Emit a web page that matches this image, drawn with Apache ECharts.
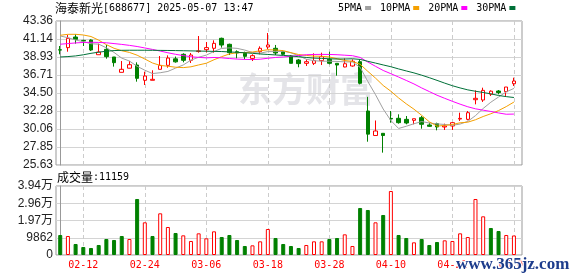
<!DOCTYPE html>
<html><head><meta charset="utf-8">
<script src="https://cdn.jsdelivr.net/npm/echarts@6/dist/echarts.min.js"></script>
<style>html,body{margin:0;padding:0;background:#fff}#c{width:578px;height:276px}</style>
</head><body><div id="c"></div>
<script>
const stockName = '海泰新光';
const stockCode = '688677';
const stamp = '2025-05-07 13:47';
const dates = ['02-07','02-10','02-11','02-12','02-13','02-14','02-17','02-18','02-19','02-20','02-21','02-24','02-25','02-26','02-27','02-28',
'03-03','03-04','03-05','03-06','03-07','03-10','03-11','03-12','03-13','03-14','03-17','03-18','03-19','03-20','03-21','03-24','03-25','03-26','03-27','03-28','03-31',
'04-01','04-02','04-03','04-07','04-08','04-09','04-10','04-11','04-14','04-15','04-16','04-17','04-18','04-21','04-22','04-23','04-24','04-25','04-28','04-29','04-30','05-06','05-07'];
const openP  = [39.82,40.08,41.39,40.97,41.02,39.21,39.87,38.93,37.04,37.55,37.94,36.06,36.06,37.41,37.90,38.70,39.26,38.52,39.60,39.83,40.00,41.23,40.49,39.58,39.38,38.76,39.58,40.16,40.00,39.58,39.05,38.56,38.15,38.15,38.48,38.64,38.15,37.70,37.82,38.35,32.28,29.26,29.53,31.37,31.38,31.25,31.13,31.46,30.56,30.72,30.31,30.43,31.29,31.25,33.67,33.63,34.35,34.74,34.66,35.64];
const closeP = [39.78,41.23,41.10,40.90,39.79,39.54,38.97,38.23,37.41,37.98,36.30,36.59,36.18,37.90,38.80,38.33,38.52,39.17,39.68,40.08,40.61,40.40,39.46,39.42,39.01,39.09,40.00,40.41,39.42,39.26,38.15,38.11,38.35,38.48,38.97,38.15,37.94,38.10,38.40,35.69,29.43,29.82,29.26,31.30,30.84,30.80,31.33,30.64,30.39,30.31,30.43,30.84,31.37,32.07,33.84,34.82,34.72,34.54,35.23,35.97];
const lowP   = [39.26,39.58,40.57,40.28,39.67,39.21,38.72,37.74,37.04,37.53,35.89,35.48,36.06,37.41,37.61,38.23,38.27,38.19,39.46,39.50,39.46,40.08,39.17,38.76,38.64,38.43,39.26,39.87,39.17,39.17,38.15,37.66,37.82,37.94,37.94,38.02,36.63,37.66,37.74,35.56,28.50,29.24,27.15,30.84,30.72,30.64,30.64,30.10,30.31,29.90,29.94,29.94,31.05,31.13,33.10,33.39,34.13,34.33,34.13,35.36];
const highP  = [40.28,41.64,41.72,41.06,41.10,40.57,40.41,38.93,38.43,38.43,38.27,37.12,37.29,39.05,39.13,38.98,39.38,39.42,41.51,40.77,40.98,41.31,40.57,39.75,39.58,39.26,40.24,41.88,40.41,39.75,39.17,38.68,38.64,39.38,39.46,39.58,38.15,38.76,38.64,38.64,34.02,31.11,29.53,32.28,31.87,31.66,31.33,31.66,30.84,30.84,30.72,30.92,32.07,32.28,34.82,35.15,34.82,34.86,35.23,36.38];
const volume = [11436,10864,6290,4574,4003,5718,9149,8577,10864,9149,32021,18679,10864,23825,16010,12580,11245,8005,12389,9530,13533,10292,11436,8577,5146,5527,7815,14867,9721,6290,5146,4003,5718,7815,7815,9149,9721,11817,5146,26875,25731,18679,22872,36595,11436,9721,7243,9149,5718,7433,8386,8005,12389,10292,32021,22110,15439,13723,11436,11159];
const ma5  = [41.51,41.31,41.02,40.82,40.56,40.51,40.06,39.49,38.79,38.43,37.78,37.30,36.89,36.99,37.15,37.56,37.95,38.54,38.90,39.16,39.61,39.99,40.05,39.99,39.78,39.48,39.40,39.59,39.59,39.64,39.45,39.07,38.66,38.47,38.41,38.41,38.38,38.33,38.31,37.66,35.91,34.29,32.52,31.10,30.13,30.40,30.71,30.98,30.80,30.69,30.62,30.52,30.67,31.00,31.71,32.59,33.36,34.00,34.63,35.06];
const ma10 = [41.60,41.72,41.72,41.64,41.45,41.00,40.45,40.00,39.70,39.49,39.15,38.68,38.19,37.89,37.79,37.67,37.62,37.72,37.95,38.16,38.59,38.97,39.30,39.45,39.47,39.54,39.69,39.82,39.79,39.71,39.46,39.23,39.12,39.03,39.02,38.93,38.72,38.49,38.39,38.03,37.16,36.33,35.42,34.71,33.89,33.16,32.50,31.75,30.95,30.41,30.51,30.61,30.83,30.90,31.20,31.60,31.94,32.33,32.82,33.38];
const ma20 = [40.50,40.58,40.66,40.72,40.74,40.72,40.68,40.58,40.48,40.36,40.22,40.04,39.86,39.66,39.45,39.26,39.10,38.96,38.88,38.82,38.87,38.82,38.74,38.67,38.63,38.61,38.66,38.77,38.87,38.93,39.02,39.10,39.21,39.24,39.25,39.24,39.21,39.15,39.09,38.87,38.31,37.78,37.27,36.87,36.46,36.04,35.61,35.12,34.67,34.22,33.84,33.47,33.12,32.80,32.55,32.38,32.22,32.04,31.88,31.90];
const ma30 = [38.93,38.98,39.06,39.20,39.38,39.52,39.64,39.72,39.75,39.76,39.76,39.76,39.75,39.74,39.73,39.72,39.70,39.68,39.66,39.64,39.62,39.60,39.55,39.50,39.45,39.38,39.30,39.24,39.18,39.12,39.06,38.96,38.87,38.79,38.76,38.71,38.68,38.68,38.71,38.63,38.40,38.18,37.95,37.73,37.46,37.21,36.97,36.69,36.38,36.05,35.71,35.39,35.12,34.88,34.71,34.56,34.39,34.19,34.05,33.94];
const priceTicks = ['25.63','27.85','30.06','32.28','34.50','36.71','38.93','41.14','43.36'];
const volTicks = ['0','9862','1.97万','2.96万','3.94万'];
const xTickLabels = ['02-12','02-24','03-06','03-18','03-28','04-10','04-22','05-07'];
const maNames = ['5PMA','10PMA','20PMA','30PMA'];
const maColors = ['#a0a0a0','#f5a000','#ff00ff','#007038'];

const P_MIN = 25.63, P_MAX = 43.36, P_INT = (P_MAX - P_MIN) / (priceTicks.length - 1);
const V_INT = 9862, V_MAX = V_INT * (volTicks.length - 1);
const X_MIN = -0.55, X_MAX = 60.05;
const tickIdx = xTickLabels.map(d => dates.indexOf(d));
const RED = '#ff0000', GREEN = '#008000';
const MONO = 'DejaVu Sans Mono';

function xAxis(gi, showLabel) {
  return {
    type: 'value', gridIndex: gi, min: X_MIN, max: X_MAX,
    axisLine: {show: false}, axisTick: {show: false, customValues: tickIdx},
    axisLabel: {show: showLabel, customValues: tickIdx, formatter: v => dates[Math.round(v)],
      color: RED, fontFamily: MONO, fontSize: 10, margin: 5},
    splitLine: {show: true, lineStyle: {color: '#cccccc', type: [4, 3], width: 1}}
  };
}
function yAxis(gi, min, max, interval, labels) {
  return {
    type: 'value', gridIndex: gi, min, max, interval,
    axisLine: {show: true, lineStyle: {color: '#999', width: 1}}, axisTick: {show: false},
    axisLabel: {formatter: v => labels[Math.round((v - min) / interval)], color: '#222',
      fontFamily: 'Liberation Sans, Noto Sans CJK SC', fontSize: 12, margin: 3},
    splitLine: {show: true, lineStyle: {color: '#d4d4d4', width: 1}}
  };
}

const candleData = dates.map((d, i) => [i, openP[i], closeP[i], lowP[i], highP[i]]);
const volData = volume.map((v, i) => {
  const up = i === 0 ? closeP[i] >= openP[i] : closeP[i] >= closeP[i - 1];
  return {value: [i, v], itemStyle: up ? {color: '#fff', borderColor: RED, borderWidth: 1}
                                       : {color: GREEN, borderColor: GREEN, borderWidth: 1}};
});
const maSeries = [ma5, ma10, ma20, ma30].map((arr, k) => ({
  name: maNames[k], type: 'line', xAxisIndex: 0, yAxisIndex: 0, symbol: 'none',
  color: maColors[k], itemStyle: {color: maColors[k]},
  lineStyle: {color: maColors[k], width: 1}, z: 3,
  data: arr.map((v, i) => [i, v])
}));

const chart = echarts.init(document.getElementById('c'), null, {renderer: 'canvas'});
chart.setOption({
  animation: false,
  backgroundColor: '#fff',
  title: [
    {left: 55, top: 2, padding: 0,
     text: '{a|' + stockName + '}{b|[' + stockCode + '] ' + stamp + '}',
     textStyle: {fontWeight: 'normal', rich: {
       a: {fontFamily: 'Noto Sans CJK SC', fontSize: 12, color: '#000'},
       b: {fontFamily: MONO, fontSize: 10, color: '#000'}}}},
    {left: 57, top: 171, padding: 0,
     text: '{a|成交量}{b|:' + volume[volume.length - 1] + '}',
     textStyle: {fontWeight: 'normal', rich: {
       a: {fontFamily: 'Noto Sans CJK SC', fontSize: 12, color: '#000'},
       b: {fontFamily: MONO, fontSize: 10, color: '#000'}}}}
  ],
  legend: {left: 338, top: 3, padding: 0, align: 'right', icon: 'rect', itemWidth: 6, itemHeight: 4,
    itemGap: 9, selectedMode: false, data: maNames,
    textStyle: {fontFamily: MONO, fontSize: 10, color: '#000', padding: [0, -2, 0, 0]}},
  graphic: [
    {type: 'text', left: 238, top: 72, z: -1, silent: true,
     style: {text: '东方财富', fill: '#e4e4e8', font: 'bold 34px "Noto Sans CJK SC"'}},
    {type: 'text', left: 455, top: 255, z: 100, silent: true,
     style: {text: 'www.365jz.com', fill: '#1d3c8c', stroke: '#fff', lineWidth: 2,
       font: 'bold 17px "Liberation Serif"'}}
  ],
  grid: [
    {left: 56, top: 21, width: 466, height: 144, show: true, borderColor: '#999', borderWidth: 1},
    {left: 56, top: 186, width: 466, height: 69, show: true, borderColor: '#999', borderWidth: 1}
  ],
  xAxis: [xAxis(0, false), xAxis(1, true)],
  yAxis: [yAxis(0, P_MIN, P_MAX, P_INT, priceTicks), yAxis(1, 0, V_MAX, V_INT, volTicks)],
  series: [
    {type: 'candlestick', xAxisIndex: 0, yAxisIndex: 0, barWidth: 4, z: 2,
     encode: {x: 0, y: [1, 2, 3, 4]}, data: candleData,
     itemStyle: {color: '#fff', color0: GREEN, borderColor: RED, borderColor0: GREEN, borderWidth: 1}},
    ...maSeries,
    {type: 'bar', xAxisIndex: 1, yAxisIndex: 1, barWidth: 4, data: volData}
  ]
});
</script></body></html>
